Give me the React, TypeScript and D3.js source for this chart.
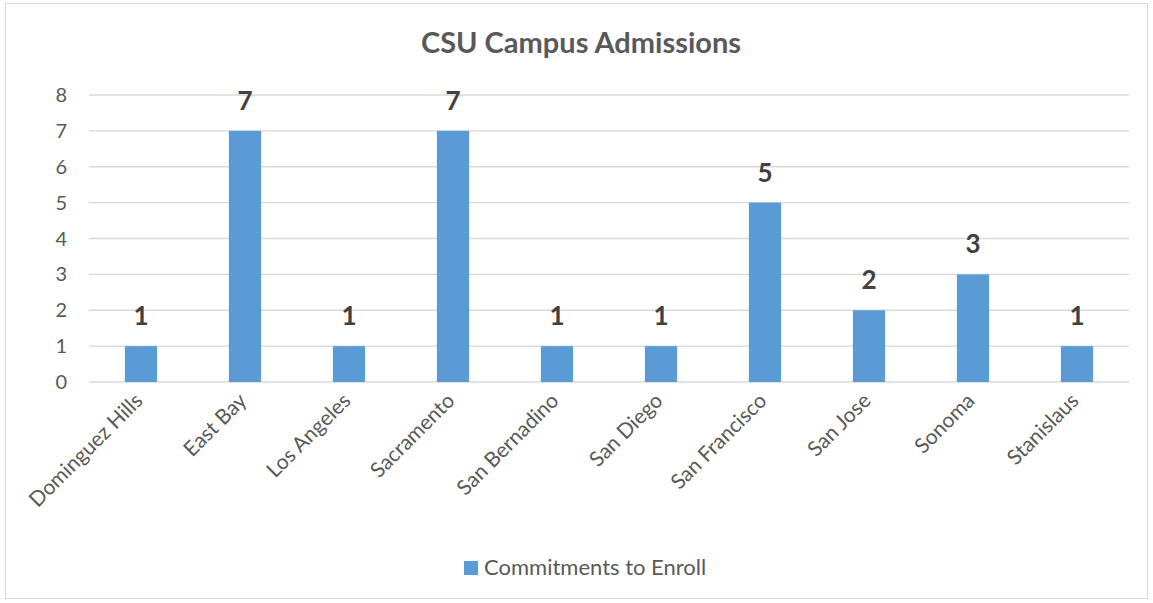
import React from "react";
import * as d3 from "d3";

const categories = ["Dominguez Hills", "East Bay", "Los Angeles", "Sacramento", "San Bernadino", "San Diego", "San Francisco", "San Jose", "Sonoma", "Stanislaus"];
const values = [1, 7, 1, 7, 1, 1, 5, 2, 3, 1];
const yTicks = [0, 1, 2, 3, 4, 5, 6, 7, 8];
const title = "CSU Campus Admissions";
const seriesName = "Commitments to Enroll";

const W = 1153, H = 603;
const left = 89, right = 1129, top = 95, bottom = 382;
const font = "Lato, 'Open Sans', sans-serif";

export default function App() {
  const x = d3.scaleBand<string>().domain(categories).range([left, right]).paddingInner(0.69).paddingOuter(0.345);
  const y = d3.scaleLinear().domain([0, 8]).range([bottom, top]);
  return (
    <svg width={W} height={H} style={{ position: "absolute", left: 0, top: 0 }} fontFamily={font}>
      <rect x={0} y={0} width={W} height={H} fill="#fff" />
      <rect x={5.5} y={3.5} width={1142} height={595} fill="#fff" stroke="#d9d9d9" strokeWidth={1} />
      <text x={581} y={53} textAnchor="middle" fontSize={29} fontWeight="bold" fill="#595959">{title}</text>
      {yTicks.map((t) => (
        <g key={t}>
          <line x1={left} x2={right} y1={y(t)} y2={y(t)} stroke="#d9d9d9" strokeWidth={1.3} />
          <text x={67} y={y(t) + 7} textAnchor="end" fontSize={20} fill="#595959">{t}</text>
        </g>
      ))}
      {categories.map((c, i) => {
        const bx = x(c)!;
        const bw = x.bandwidth();
        const cx = bx + bw / 2;
        return (
          <g key={c}>
            <rect x={bx} y={y(values[i])} width={bw} height={y(0) - y(values[i])} fill="#5B9BD5" />
            <text x={cx} y={y(values[i]) - 21} textAnchor="middle" fontSize={26} fontWeight="bold" fill="#404040">{values[i]}</text>
            <text transform={`translate(${cx + 3},${402}) rotate(-45)`} textAnchor="end" fontSize={21} fill="#595959">{c}</text>
          </g>
        );
      })}
      <rect x={464} y={561} width={14} height={14} fill="#5B9BD5" />
      <text x={484} y={575} fontSize={22} fill="#595959">{seriesName}</text>
    </svg>
  );
}
